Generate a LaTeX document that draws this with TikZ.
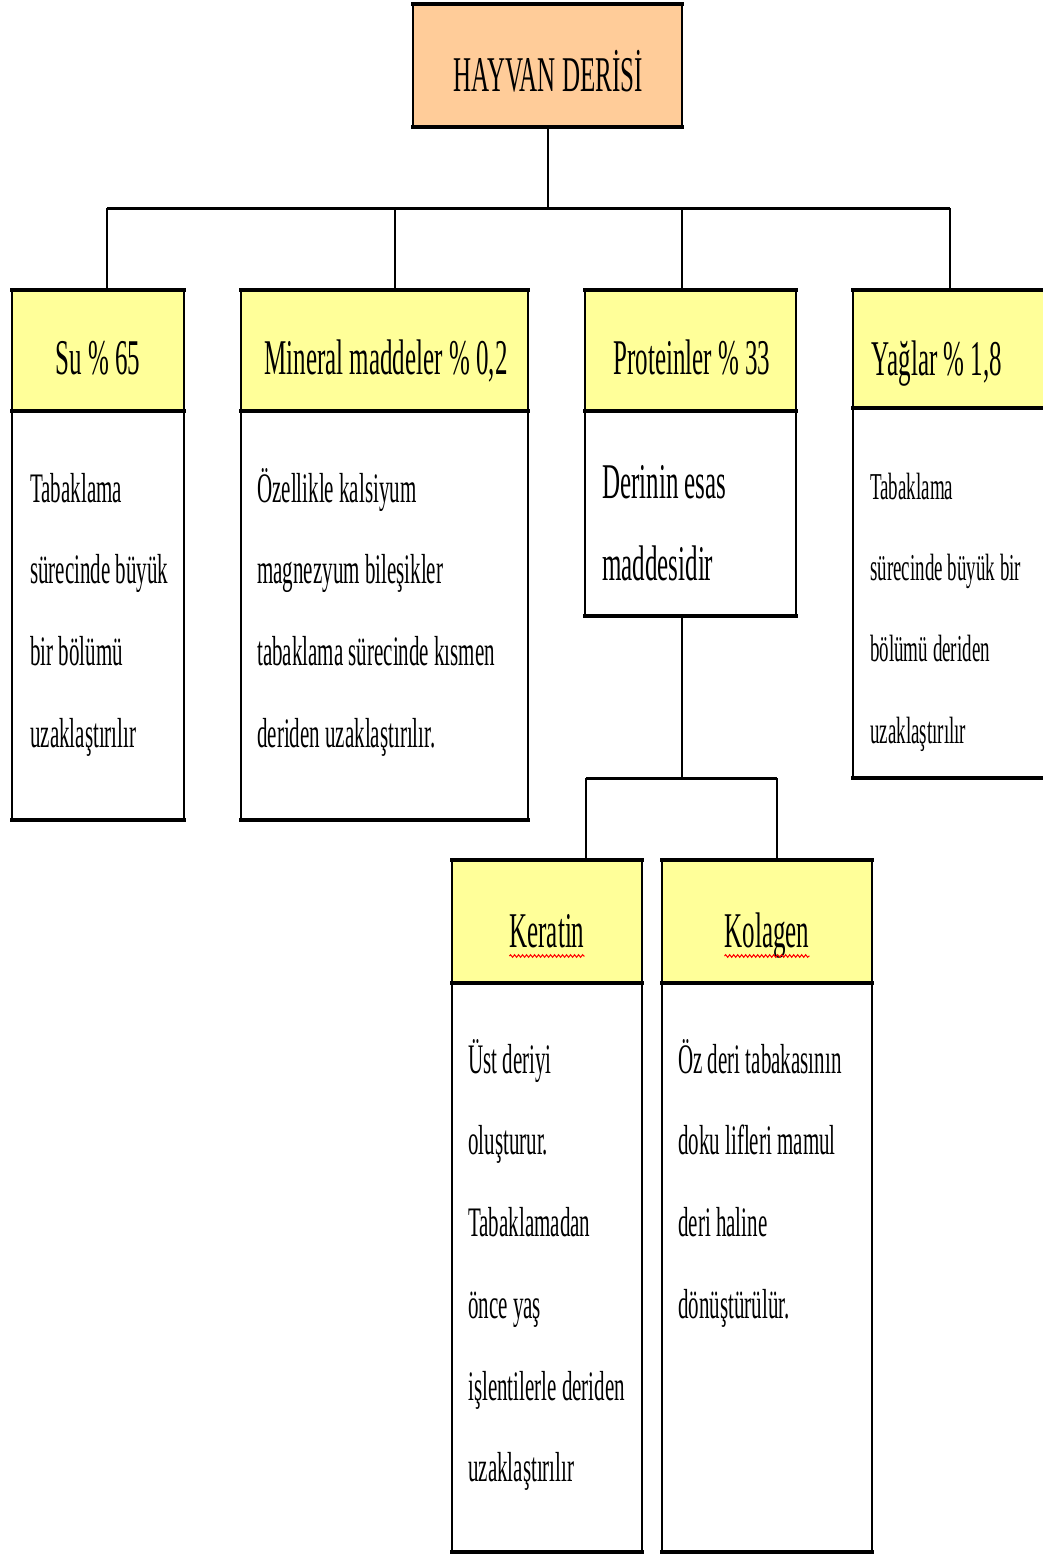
\documentclass[tikz,border=0pt]{standalone}
\usepackage{fontspec}
\newfontfamily\dfont[FakeStretch=0.5]{Liberation Serif}
\usetikzlibrary{decorations.pathmorphing}
\definecolor{toporange}{HTML}{FFCC99}
\definecolor{hdryellow}{HTML}{FFFF99}
\begin{document}
\begin{tikzpicture}[x=1pt,y=-1pt,
  boxbase/.style={draw=black, line width=2.2pt, inner sep=0pt, outer sep=0pt, anchor=north west,
    append after command={(\tikzlastnode.north west) edge[line width=3.4pt, line cap=rect] (\tikzlastnode.north east)
                          (\tikzlastnode.south west) edge[line width=3.4pt, line cap=rect] (\tikzlastnode.south east)}},
  topbox/.style={boxbase, fill=toporange},
  hdrbox/.style={boxbase, fill=hdryellow},
  bodybox/.style={boxbase, fill=white},
  conn/.style={draw=black, line width=2pt},
  busline/.style={draw=black, line width=3pt},
  hdrtxt/.style={inner sep=0pt, anchor=base, font=\dfont\fontsize{50}{60}\selectfont},
  bodytxt/.style={inner sep=0pt, anchor=north west, align=left, font=\dfont\fontsize{42}{81.7}\selectfont},
  bigbody/.style={inner sep=0pt, anchor=north west, align=left, font=\dfont\fontsize{50}{82}\selectfont},
  smallbody/.style={inner sep=0pt, anchor=north west, align=left, font=\dfont\fontsize{38}{81.3}\selectfont},
  wavy/.style={draw=red, line width=1pt, decorate, decoration={snake, amplitude=1.3pt, segment length=4pt}}
]
\useasboundingbox (0,0) rectangle (1043,1555);
\clip (0,0) rectangle (1043,1555);
\fill[white] (0,0) rectangle (1043,1555);

% connector coordinates
\coordinate (j1) at (107,208);
\coordinate (j2) at (395,208);
\coordinate (j3) at (682,208);
\coordinate (j4) at (950,208);
\coordinate (p1) at (682,778);
\coordinate (k1) at (586,778);
\coordinate (k2) at (777,778);

% boxes
\node[topbox, minimum width=269, minimum height=123] (top) at (413,4) {};
\node[hdrbox, minimum width=172, minimum height=121] (suH) at (12,290) {};
\node[bodybox, minimum width=172, minimum height=409] (suB) at (12,411) {};
\node[hdrbox, minimum width=287, minimum height=121] (minH) at (241,290) {};
\node[bodybox, minimum width=287, minimum height=409] (minB) at (241,411) {};
\node[hdrbox, minimum width=211, minimum height=121] (proH) at (585,290) {};
\node[bodybox, minimum width=211, minimum height=205] (proB) at (585,411) {};
\node[hdrbox, minimum width=210, minimum height=118] (yagH) at (853,290) {};
\node[bodybox, minimum width=210, minimum height=370] (yagB) at (853,408) {};
\node[hdrbox, minimum width=190, minimum height=123] (kerH) at (452,860) {};
\node[bodybox, minimum width=190, minimum height=569] (kerB) at (452,983) {};
\node[hdrbox, minimum width=210, minimum height=123] (kolH) at (662,860) {};
\node[bodybox, minimum width=210, minimum height=569] (kolB) at (662,983) {};

% connectors
\draw[conn] (top.south) -- (top.south |- j1);
\draw[busline] (j1) -- (j4);
\draw[conn] (j1) -- (j1 |- suH.north);
\draw[conn] (j2) -- (j2 |- minH.north);
\draw[conn] (j3) -- (j3 |- proH.north);
\draw[conn] (j4) -- (j4 |- yagH.north);
\draw[conn] (proB.south -| p1) -- (p1);
\draw[busline] (k1) -- (k2);
\draw[conn] (k1) -- (k1 |- kerH.north);
\draw[conn] (k2) -- (k2 |- kolH.north);

% header texts
\node[hdrtxt] (topT) at (548,92) {HAYVAN DERİSİ};
\node[hdrtxt] (suT) at (98,374) {Su \% 65};
\node[hdrtxt] (minT) at (386,374) {Mineral maddeler \% 0,2};
\node[hdrtxt] (proT) at (692,374) {Proteinler \% 33};
\node[hdrtxt] (yagT) at (937,375) {Yağlar \% 1,8};
\node[hdrtxt] (kerT) at (547,947) {Keratin};
\node[hdrtxt] (kolT) at (767,947) {Kolagen};
\draw[wavy] ([yshift=-9pt]kerT.base west) -- ([yshift=-9pt]kerT.base east);
\draw[wavy] ([yshift=-9pt]kolT.base west) -- ([yshift=-9pt]kolT.base east);

% body texts
\node[bodytxt] (suX) at (30,462) {\rule{0pt}{40pt}Tabaklama\\sürecinde büyük\\bir bölümü\\uzaklaştırılır};
\node[bodytxt] (minX) at (257,462) {\rule{0pt}{40pt}Özellikle kalsiyum\\magnezyum bileşikler\\tabaklama sürecinde kısmen\\deriden uzaklaştırılır.};
\node[bigbody] (proX) at (602,458) {\rule{0pt}{40pt}Derinin esas\\maddesidir};
\node[smallbody] (yagX) at (870,459) {\rule{0pt}{40pt}Tabaklama\\sürecinde büyük bir\\bölümü deriden\\uzaklaştırılır};
\node[bodytxt] (kerX) at (468,1033) {\rule{0pt}{40pt}Üst deriyi\\oluşturur.\\Tabaklamadan\\önce yaş\\işlentilerle deriden\\uzaklaştırılır};
\node[bodytxt] (kolX) at (678,1033) {\rule{0pt}{40pt}Öz deri tabakasının\\doku lifleri mamul\\deri haline\\dönüştürülür.};
\end{tikzpicture}
\end{document}
